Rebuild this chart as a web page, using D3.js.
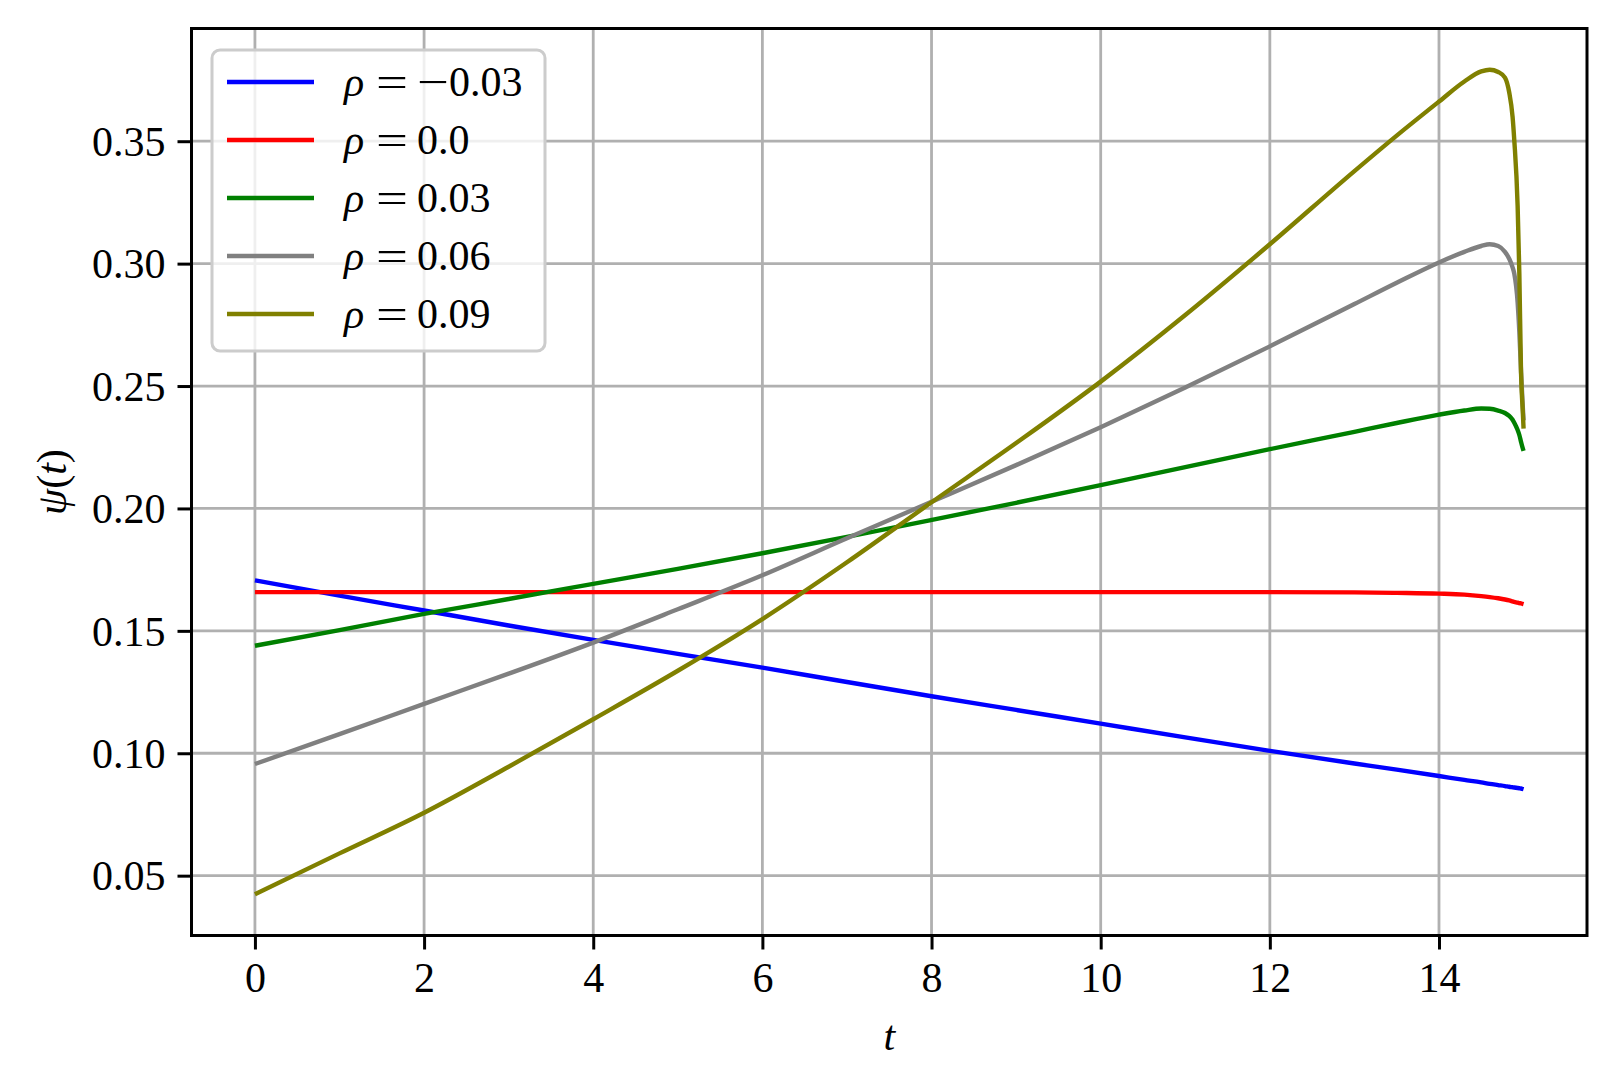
<!DOCTYPE html>
<html>
<head>
<meta charset="utf-8">
<script src="https://cdn.jsdelivr.net/npm/d3@7"></script>
<style>
  html, body { margin: 0; padding: 0; background: #fff; }
  svg { display: block; }
  text { font-family: "Liberation Serif", "DejaVu Serif", serif; fill: #000; }
</style>
</head>
<body>
<svg id="chart" width="1616" height="1085"></svg>
<script>
// ---- data ----
const tValues = [0,1,2,3,4,5,6,7,8,9,10,11,12,13,13.5,14,14.3,14.5,14.6,14.7,14.78,14.83,14.87,14.89,14.93,14.95,14.97,14.99,15];

const rhoLabels = ["\u22120.03", "0.0", "0.03", "0.06", "0.09"];
const seriesColors = ["#0000ff", "#ff0000", "#008000", "#808080", "#808000"];

const psiRhoM003 = [0.1706,0.1644,0.1583,0.1522,0.1463,0.1406,0.1350,0.1291,0.1233,0.1177,0.1121,0.1065,0.1010,0.0958,0.0933,0.0907,0.0891,0.0881,0.0875,0.0870,0.0866,0.0863,0.0861,0.0860,0.0858,0.0857,0.0856,0.0854,0.0853];
const psiRho000  = [0.1658,0.1658,0.1658,0.1658,0.1658,0.1658,0.1658,0.1658,0.1658,0.1658,0.1658,0.1658,0.1658,0.1657,0.1655,0.1652,0.1648,0.1642,0.1638,0.1633,0.1628,0.1624,0.1620,0.1618,0.1615,0.1613,0.1612,0.1610,0.1609];
const psiRho003  = [0.1439,0.1503,0.1569,0.1630,0.1692,0.1753,0.1817,0.1884,0.1953,0.2023,0.2095,0.2169,0.2242,0.2313,0.2349,0.2383,0.2400,0.2408,0.2407,0.2400,0.2390,0.2378,0.2362,0.2350,0.2320,0.2300,0.2272,0.2246,0.2235];
const psiRho006  = [0.0956,0.1078,0.1202,0.1325,0.1452,0.1588,0.1727,0.1878,0.2027,0.2177,0.2332,0.2494,0.2662,0.2835,0.2922,0.3005,0.3048,0.3072,0.3079,0.3072,0.3048,0.3020,0.2985,0.2959,0.2840,0.2720,0.2560,0.2420,0.2360];
const psiRho009  = [0.0424,0.0591,0.0757,0.0945,0.1139,0.1337,0.1548,0.1780,0.2025,0.2267,0.2518,0.2790,0.3079,0.3378,0.3523,0.3662,0.3744,0.3785,0.3792,0.3783,0.3760,0.3700,0.3600,0.3505,0.3233,0.2960,0.2555,0.2400,0.2326];

const seriesValues = [psiRhoM003, psiRho000, psiRho003, psiRho006, psiRho009];

const xTickValues = [0,2,4,6,8,10,12,14];
const yTickValues = [0.05,0.10,0.15,0.20,0.25,0.30,0.35];
const xLabel = "t";

// ---- layout ----
const svg = d3.select("#chart");
const L = 191.5, R = 1587, T = 28.5, B = 935.5;
const FS = 42;

const tMin = d3.min(tValues), tMax = d3.max(tValues);
const tPad = (tMax - tMin) * 0.05;
const allVals = seriesValues.flat();
const vMin = d3.min(allVals), vMax = d3.max(allVals);
const vPad = (vMax - vMin) * 0.05;

const x = d3.scaleLinear().domain([tMin - tPad, tMax + tPad]).range([L, R]);
const y = d3.scaleLinear().domain([vMin - vPad, vMax + vPad]).range([B, T]);

// grid
const grid = svg.append("g").attr("stroke", "#b0b0b0").attr("stroke-width", 2.8);
grid.selectAll("line.gx").data(xTickValues).enter().append("line")
  .attr("x1", d => x(d)).attr("x2", d => x(d)).attr("y1", T).attr("y2", B);
grid.selectAll("line.gy").data(yTickValues).enter().append("line")
  .attr("x1", L).attr("x2", R).attr("y1", d => y(d)).attr("y2", d => y(d));

// lines
const line = d3.line().x((d, i) => x(tValues[i])).y(d => y(d)).curve(d3.curveMonotoneX);
svg.append("clipPath").attr("id", "clip").append("rect")
  .attr("x", L).attr("y", T).attr("width", R - L).attr("height", B - T);
svg.append("g").attr("clip-path", "url(#clip)")
  .selectAll("path").data(seriesValues).enter().append("path")
  .attr("d", d => line(d))
  .attr("fill", "none")
  .attr("stroke", (d, i) => seriesColors[i])
  .attr("stroke-width", 4.4)
  .attr("stroke-linejoin", "round")
  .attr("stroke-linecap", "butt");

// axes
const xAxis = d3.axisBottom(x).tickValues(xTickValues).tickFormat(d3.format("d"))
  .tickSize(14).tickPadding(13);
const yAxis = d3.axisLeft(y).tickValues(yTickValues).tickFormat(d3.format(".2f"))
  .tickSize(14).tickPadding(12);

const gx = svg.append("g").attr("transform", `translate(0,${B})`).call(xAxis);
const gy = svg.append("g").attr("transform", `translate(${L},0)`).call(yAxis);
[gx, gy].forEach(g => {
  g.select(".domain").remove();
  g.selectAll(".tick line").attr("stroke", "#000").attr("stroke-width", 3);
  g.selectAll(".tick text").attr("font-size", FS).attr("fill", "#000")
    .style("font-family", '"Liberation Serif", serif');
});
gy.selectAll(".tick text").attr("dy", "0.34em");

// frame
svg.append("rect").attr("x", L).attr("y", T).attr("width", R - L).attr("height", B - T)
  .attr("fill", "none").attr("stroke", "#000").attr("stroke-width", 3);

// axis labels
svg.append("text").attr("x", (L + R) / 2).attr("y", 1050)
  .attr("text-anchor", "middle").attr("font-size", FS).attr("font-style", "italic").text(xLabel);

const yl = svg.append("text")
  .attr("transform", `translate(66,${(T + B) / 2}) rotate(-90)`)
  .attr("text-anchor", "middle").attr("font-size", FS);
yl.append("tspan").attr("font-style", "italic").text("\u03c8");
yl.append("tspan").text("(");
yl.append("tspan").attr("font-style", "italic").text("t");
yl.append("tspan").text(")");

// legend
const lg = svg.append("g");
lg.append("rect").attr("x", 212).attr("y", 50).attr("width", 333).attr("height", 301)
  .attr("rx", 8).attr("ry", 8)
  .attr("fill", "#ffffff").attr("fill-opacity", 0.8)
  .attr("stroke", "#cccccc").attr("stroke-width", 3);
const rowY = i => 82 + i * 58;
rhoLabels.forEach((lab, i) => {
  lg.append("line").attr("x1", 227).attr("x2", 314).attr("y1", rowY(i)).attr("y2", rowY(i))
    .attr("stroke", seriesColors[i]).attr("stroke-width", 4.4);
  const by = rowY(i) + 14;
  lg.append("text").attr("x", 344).attr("y", by).attr("font-size", FS)
    .attr("font-style", "italic").text("\u03c1");
  lg.append("text").attr("transform", `translate(392,${by}) scale(1.35,1)`)
    .attr("text-anchor", "middle").attr("font-size", FS).text("=");
  let xs = 417;
  let rest = lab;
  if (lab.startsWith("\u2212")) {
    lg.append("text").attr("transform", `translate(${xs},${by}) scale(1.35,1)`)
      .attr("font-size", FS).text("\u2212");
    xs += 32;
    rest = lab.slice(1);
  }
  lg.append("text").attr("x", xs).attr("y", by).attr("font-size", FS).text(rest);
});
</script>
</body>
</html>
